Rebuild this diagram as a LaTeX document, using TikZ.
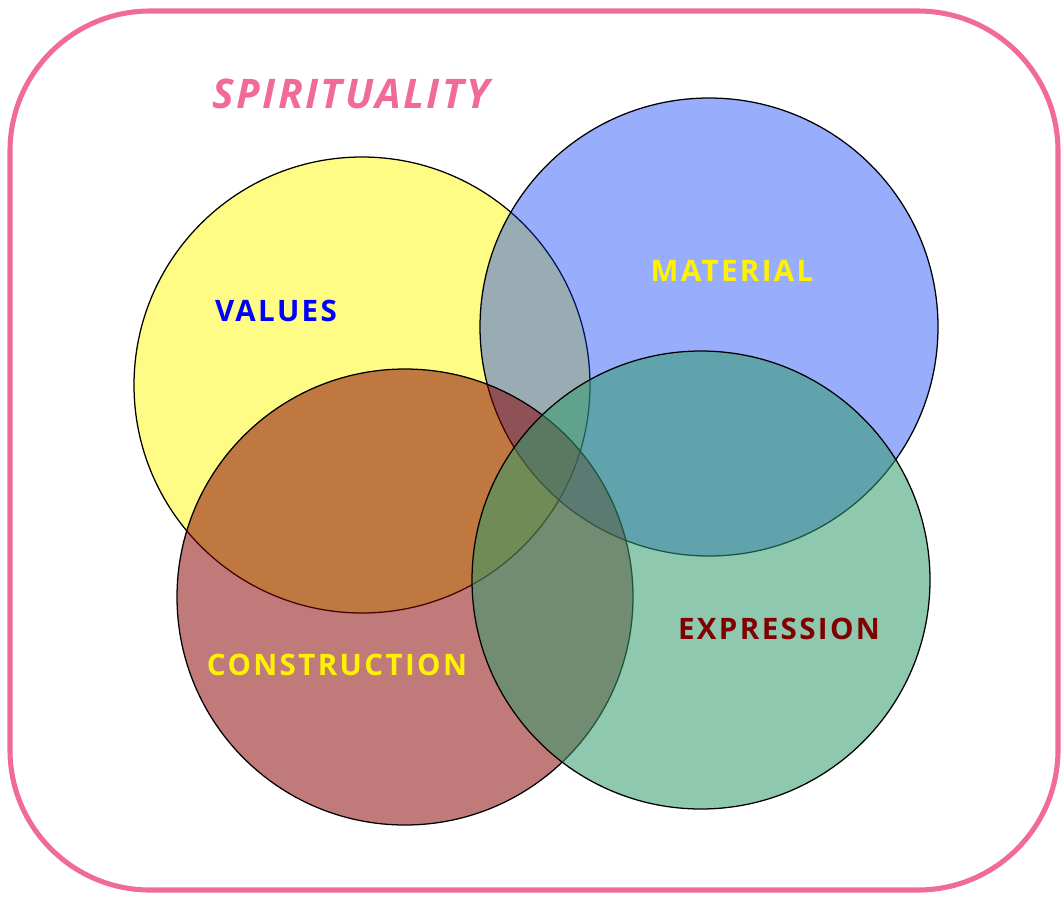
\documentclass[tikz,border=0pt]{standalone}
\usepackage{fontspec}
\setmainfont{Open Sans}
\newfontfamily\labelfont[LetterSpace=8]{Open Sans}
\newfontfamily\titlefont[LetterSpace=6]{Open Sans}
\definecolor{pinkline}{RGB}{240,106,154}
\definecolor{valyellow}{RGB}{255,252,133}
\definecolor{matblue}{RGB}{0,51,250}
\definecolor{conbrown}{RGB}{134,0,0}
\definecolor{expgreen}{RGB}{50,155,108}
\definecolor{darkmaroon}{RGB}{128,0,0}
\tikzset{
	label/.style={font=\labelfont\fontsize{21}{21}\selectfont\bfseries},
	ring/.style={draw=black, line width=0.9pt}
}
\begin{document}
\begin{tikzpicture}[x=0.025cm, y=-0.025cm]

		\useasboundingbox (0, 0) rectangle (1064, 896);
		\draw[pinkline, line width=3.6pt, rounded corners=3.5cm] (10, 11) rectangle (1058, 890);
		\node[pinkline, font=\titlefont\fontsize{29}{29}\selectfont\bfseries\itshape] (spirit) at (351, 94) {SPIRITUALITY};

		\draw[ring, fill=valyellow] (362, 385) circle (228);
		\draw[ring, fill=matblue, fill opacity=0.4] (709, 327) circle (229);
		\draw[ring, fill=conbrown, fill opacity=0.52] (405, 597) circle (228);
		\draw[ring, fill=expgreen, fill opacity=0.55] (701, 580) circle (229);

		\node[label, blue] (values) at (276, 311) {VALUES};
		\node[label, yellow] (material) at (732, 271) {MATERIAL};
		\node[label, yellow] (construction) at (337, 665) {CONSTRUCTION};
		\node[label, darkmaroon] (expression) at (779, 629) {EXPRESSION};
	\end{tikzpicture}
\end{document}
